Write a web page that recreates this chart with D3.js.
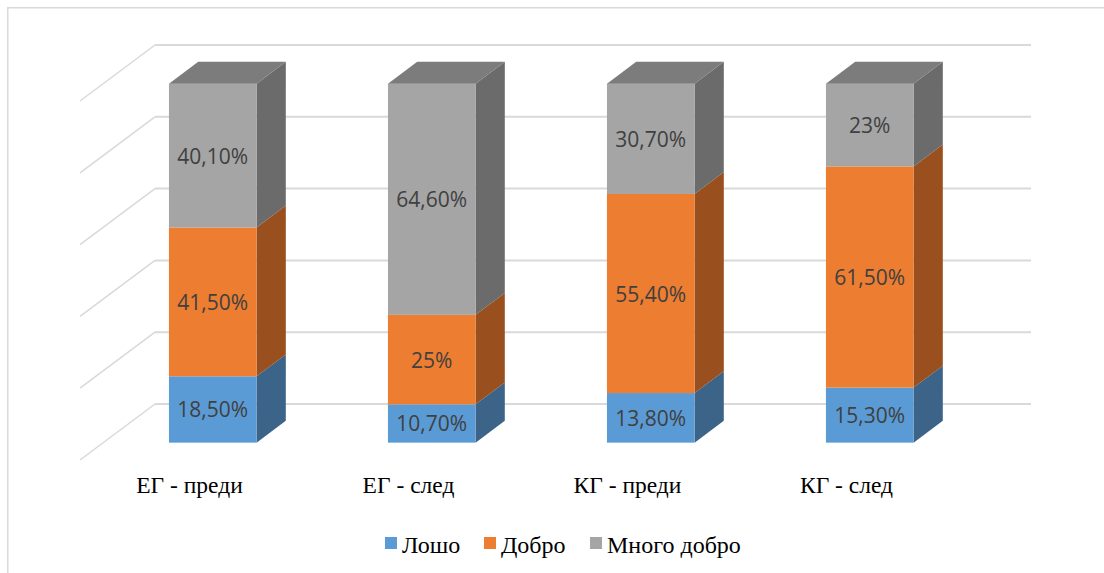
<!DOCTYPE html>
<html>
<head>
<meta charset="utf-8">
<script src="https://cdn.jsdelivr.net/npm/d3@7"></script>
<style>
  html, body { margin: 0; padding: 0; background: #fff; }
  svg { display: block; }
</style>
</head>
<body>
<svg id="chart" width="1104" height="573"></svg>
<script>
// Categories and series (percent values as labelled)
const categories = ["ЕГ - преди", "ЕГ - след", "КГ - преди", "КГ - след"];
const seriesNames = ["Лошо", "Добро", "Много добро"];
const losho = [18.5, 10.7, 13.8, 15.3];
const dobro = [41.5, 25, 55.4, 61.5];
const mnogoDobro = [40.1, 64.6, 30.7, 23];
const valueLabels = [
  ["18,50%", "10,70%", "13,80%", "15,30%"],
  ["41,50%", "25%", "55,40%", "61,50%"],
  ["40,10%", "64,60%", "30,70%", "23%"]
];
const yTicks = [0, 20, 40, 60, 80, 100];

const frontColors = ["#5b9bd5", "#ed7d31", "#a5a5a5"];
const sideColors = ["#3c6489", "#9a4f1e", "#6b6b6b"];
const topColors = ["#4a7fb0", "#c1672a", "#7c7c7c"];

const svg = d3.select("#chart");

// chart frame
svg.append("rect")
  .attr("x", 7.75).attr("y", 7.75)
  .attr("width", 1200).attr("height", 700)
  .attr("fill", "none").attr("stroke", "#d9d9d9").attr("stroke-width", 1.5);

// oblique projection: depth 0 = front edge of floor, depth 1 = back wall
const depthVec = { x: 75, y: -56 };
const x = d3.scaleBand().domain(categories).range([80, 956])
  .paddingInner(0.6).paddingOuter(0.3);
const y = d3.scaleLinear().domain([0, 100]).range([460, 101]);
const P = (px, v, d) => [px + d * depthVec.x, y(v) + d * depthVec.y];

const barFront = 0.31, barBack = 0.70;

// gridlines: side wall diagonals and back wall horizontals
const grid = svg.append("g");
yTicks.forEach(t => {
  const a = P(80, t, 0), b = P(80, t, 1), c = P(956, t, 1);
  grid.append("line")
    .attr("x1", a[0]).attr("y1", a[1]).attr("x2", b[0]).attr("y2", b[1])
    .attr("stroke", "#d9d9d9").attr("stroke-width", 1.5);
  grid.append("line")
    .attr("x1", b[0]).attr("y1", b[1]).attr("x2", c[0]).attr("y2", c[1])
    .attr("stroke", "#d9d9d9").attr("stroke-width", 2);
});

// stacked data, normalised to 100%
const rows = categories.map((c, i) => ({
  cat: c, "Лошо": losho[i], "Добро": dobro[i], "Много добро": mnogoDobro[i]
}));
const stack = d3.stack().keys(seriesNames).offset(d3.stackOffsetExpand);
const layers = stack(rows);

const bars = svg.append("g");
const poly = pts => pts.map(p => p.join(",")).join(" ");

categories.forEach((cat, ci) => {
  const x0 = x(cat), x1 = x0 + x.bandwidth();
  layers.forEach((layer, si) => {
    const lo = layer[ci][0] * 100, hi = layer[ci][1] * 100;
    // right side face
    bars.append("polygon")
      .attr("points", poly([P(x1, lo, barFront), P(x1, lo, barBack), P(x1, hi, barBack), P(x1, hi, barFront)]))
      .attr("fill", sideColors[si]);
    // front face
    const fa = P(x0, hi, barFront), fb = P(x1, lo, barFront);
    bars.append("rect")
      .attr("x", fa[0]).attr("y", fa[1])
      .attr("width", fb[0] - fa[0]).attr("height", fb[1] - fa[1])
      .attr("fill", frontColors[si]);
    // top face of the uppermost segment
    if (si === layers.length - 1) {
      bars.append("polygon")
        .attr("points", poly([P(x0, hi, barFront), P(x1, hi, barFront), P(x1, hi, barBack), P(x0, hi, barBack)]))
        .attr("fill", topColors[si]);
    }
    // value label
    const c = P(x0 + x.bandwidth() / 2, (lo + hi) / 2, barFront);
    bars.append("text")
      .attr("x", c[0]).attr("y", c[1])
      .attr("text-anchor", "middle").attr("dominant-baseline", "central")
      .attr("font-family", "'Open Sans', sans-serif").attr("font-size", 21)
      .attr("fill", "#404040")
      .text(valueLabels[si][ci]);
  });
});

// category labels along the front edge
svg.append("g").selectAll("text").data(categories).join("text")
  .attr("x", d => x(d) + x.bandwidth() / 2)
  .attr("y", 493)
  .attr("text-anchor", "middle")
  .attr("font-family", "'Liberation Serif', 'Times New Roman', serif")
  .attr("font-size", 23.5)
  .attr("fill", "#000")
  .text(d => d);

// legend
const legendX = [385, 484, 590];
const legend = svg.append("g");
seriesNames.forEach((s, i) => {
  legend.append("rect")
    .attr("x", legendX[i]).attr("y", 537).attr("width", 12).attr("height", 12)
    .attr("fill", frontColors[i]);
  legend.append("text")
    .attr("x", legendX[i] + 17).attr("y", 553)
    .attr("font-family", "'Liberation Serif', 'Times New Roman', serif")
    .attr("font-size", 24)
    .attr("fill", "#000")
    .text(s);
});
</script>
</body>
</html>
